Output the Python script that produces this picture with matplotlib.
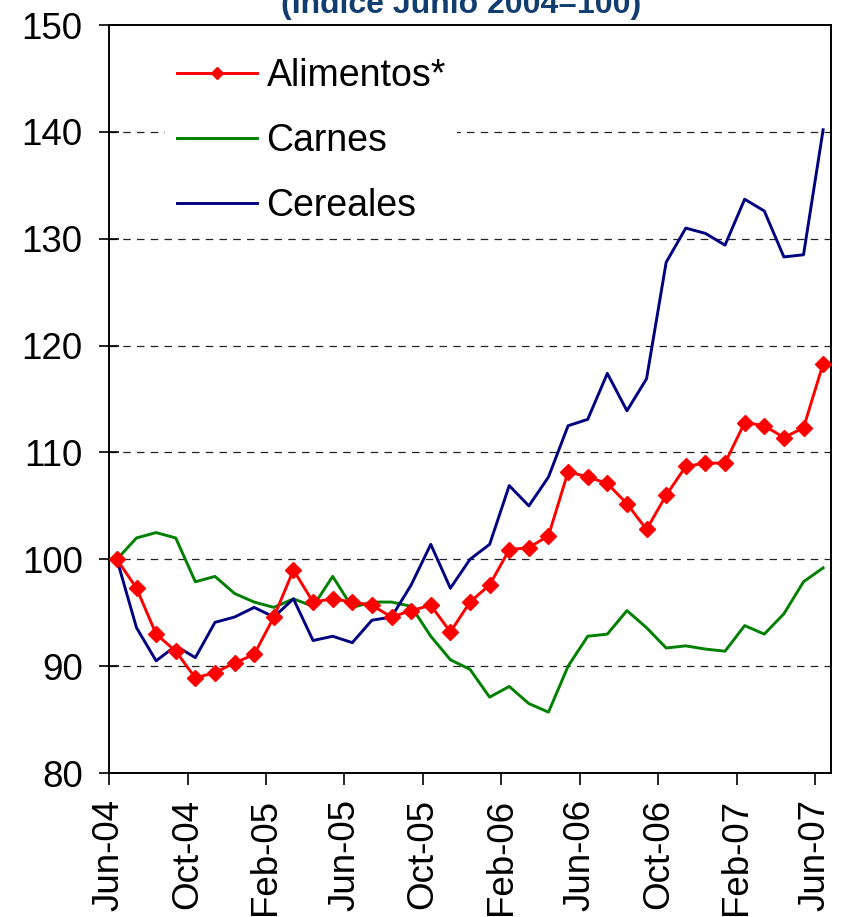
import numpy as np
import matplotlib
matplotlib.use("Agg")
import matplotlib.pyplot as plt

plt.rcParams['font.family'] = ['Liberation Sans', 'DejaVu Sans']

# Meses Jun-04 .. Jun-07 (37 puntos)
meses = ["Jun-04", "Jul-04", "Aug-04", "Sep-04", "Oct-04", "Nov-04", "Dec-04", "Jan-05",
         "Feb-05", "Mar-05", "Apr-05", "May-05", "Jun-05", "Jul-05", "Aug-05", "Sep-05",
         "Oct-05", "Nov-05", "Dec-05", "Jan-06", "Feb-06", "Mar-06", "Apr-06", "May-06",
         "Jun-06", "Jul-06", "Aug-06", "Sep-06", "Oct-06", "Nov-06", "Dec-06", "Jan-07",
         "Feb-07", "Mar-07", "Apr-07", "May-07", "Jun-07"]

alimentos = [100.0, 97.3, 93.0, 91.4, 88.9, 89.4, 90.3, 91.1, 94.6, 99.0,
             96.0, 96.3, 96.0, 95.7, 94.6, 95.2, 95.7, 93.2, 96.0, 97.6,
             100.9, 101.1, 102.2, 108.2, 107.7, 107.1, 105.2, 102.8, 106.0, 108.7,
             109.0, 109.0, 112.8, 112.5, 111.4, 112.3, 118.3]

carnes = [100.0, 102.0, 102.5, 102.0, 97.9, 98.4, 96.8, 96.0, 95.5, 96.3,
          95.6, 98.4, 95.5, 96.0, 96.0, 95.6, 92.8, 90.6, 89.7, 87.1,
          88.1, 86.5, 85.7, 90.0, 92.8, 93.0, 95.2, 93.6, 91.7, 91.9,
          91.6, 91.4, 93.8, 93.0, 94.9, 97.9, 99.2]

cereales = [100.0, 93.6, 90.5, 91.9, 90.8, 94.1, 94.6, 95.5, 94.6, 96.3,
            92.4, 92.8, 92.2, 94.3, 94.6, 97.6, 101.4, 97.3, 100.0, 101.4,
            106.9, 105.0, 107.7, 112.5, 113.1, 117.4, 113.9, 116.9, 127.8, 131.0,
            130.5, 129.4, 133.7, 132.6, 128.3, 128.5, 140.2]

tick_labels = meses[::4]

x = np.arange(len(meses)) + 0.4

fig = plt.figure(figsize=(8.42, 9.17), dpi=100)
ax = fig.add_axes([0.1295, 0.157, 0.8574, 0.8157])

ax.plot(x, alimentos, color="#FF0000", lw=2.1, marker="D", markersize=8,
        label="Alimentos*", zorder=4)
ax.plot(x, carnes, color="#008000", lw=2.1, label="Carnes", zorder=3)
ax.plot(x, cereales, color="#000080", lw=2.1, label="Cereales", zorder=3)

ax.set_ylim(80, 150)
ax.set_yticks(range(80, 151, 10))
ax.set_xlim(0, 36.8)
ax.set_xticks(np.arange(0, 37, 4))
ax.set_xticklabels(tick_labels, rotation=90)

for yv in range(90, 150, 10):
    ax.axhline(yv, color="#222222", lw=0.9, ls=(0, (6, 5)), zorder=1)

ax.tick_params(axis="y", direction="inout", length=14, width=1.2,
               labelsize=26.5, pad=12)
ax.tick_params(axis="x", direction="out", length=8.5, width=1.2,
               labelsize=26.5, pad=10)
for s in ax.spines.values():
    s.set_linewidth(1.4)
    s.set_color("black")

leg = ax.legend(loc="upper left", bbox_to_anchor=(0.052, 0.996), fontsize=27,
                frameon=True, facecolor="white", edgecolor="none", framealpha=1,
                handlelength=2.15, handletextpad=0.25, labelspacing=0.77,
                markerscale=0.75, borderpad=0.3, fancybox=False)
leg.set_zorder(5)

fig.text(0.548, 0.9858, "(Indice Junio 2004=100)", ha="center", va="baseline",
         fontsize=23, fontweight="bold", color="#123D70")

fig.savefig("out.png", dpi=100)
